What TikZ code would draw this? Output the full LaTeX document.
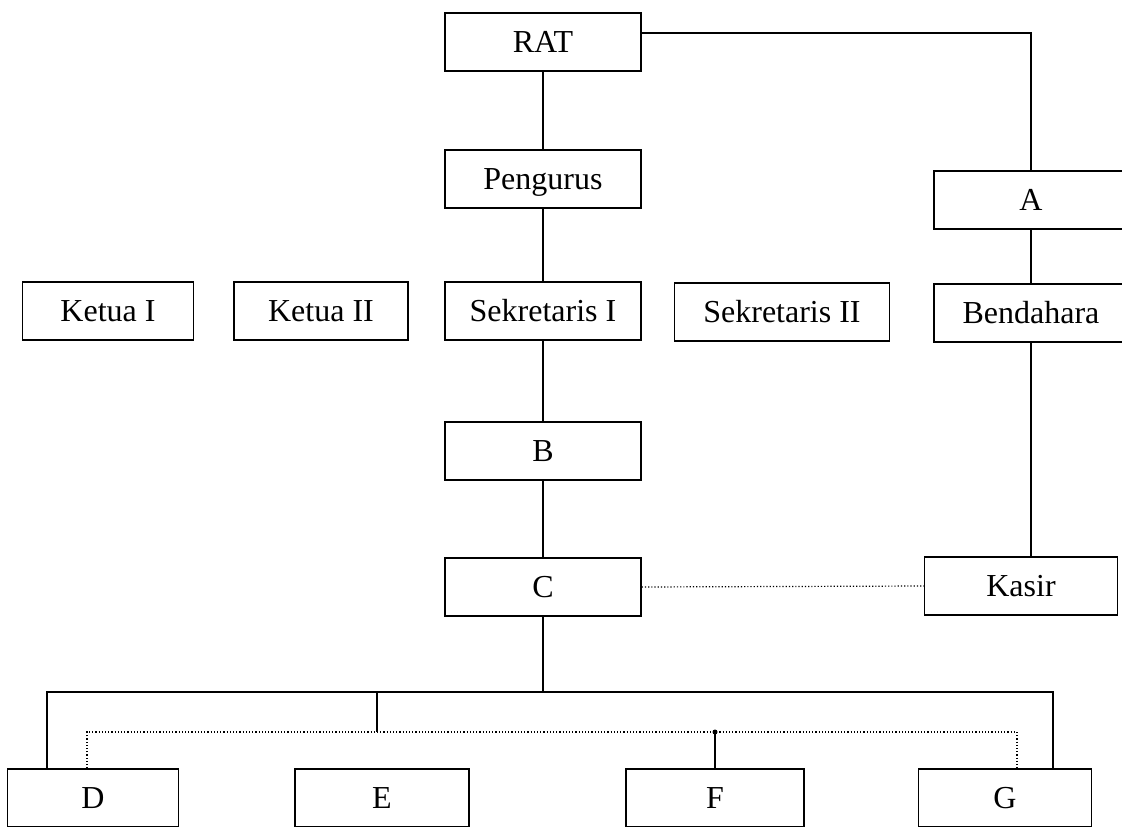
\documentclass[tikz,border=0pt]{standalone}
\usepackage{fontspec}
\setmainfont{Liberation Serif}
\usepackage{tikz}

\begin{document}
\begin{tikzpicture}[x=1pt,y=-1pt,
    box/.style={draw=black, line width=1.3pt, inner sep=0pt, minimum height=58pt,
      text height=21pt, text depth=0pt, font=\fontsize{32}{36}\selectfont},
    link/.style={draw=black, line width=1.3pt},
    dotlink/.style={draw=black, line width=1.2pt, dotted}]
            \useasboundingbox (0,0) rectangle (1122,827);
            % top of the chart
            \node [box, minimum width=196pt] (rat) at (543,42) {RAT};
            \node [box, minimum width=196pt] (pengurus) at (543,179) {Pengurus};
            \node [box, minimum width=194pt] (a) at (1031,200) {A};
            % row of officers
            \node [box, minimum width=171pt] (ketua1) at (108,311) {Ketua I};
            \node [box, minimum width=174pt] (ketua2) at (321,311) {Ketua II};
            \node [box, minimum width=196pt] (sekr1) at (543,311) {Sekretaris I};
            \node [box, minimum width=215pt] (sekr2) at (782,312) {Sekretaris II};
            \node [box, minimum width=194pt] (bendahara) at (1031,313) {Bendahara};
            % lower part
            \node [box, minimum width=196pt] (b) at (543,451) {B};
            \node [box, minimum width=196pt] (c) at (543,587) {C};
            \node [box, minimum width=193pt] (kasir) at (1021,586) {Kasir};
            \node [box, minimum width=171pt] (d) at (93,798) {D};
            \node [box, minimum width=174pt] (e) at (382,798) {E};
            \node [box, minimum width=178pt] (f) at (715,798) {F};
            \node [box, minimum width=173pt] (g) at (1005,798) {G};
            \coordinate (busL) at (47,692);
            \coordinate (busR) at (1053,692);
            \coordinate (tick) at (377,692);
            \coordinate (dotL) at (87,732);
            \coordinate (dotR) at (1017,732);
            % solid connectors
            \draw [link] ([yshift=9pt]rat.east) -| (a.north);
            \draw [link] (rat) -- (pengurus);
            \draw [link] (pengurus) -- (sekr1);
            \draw [link] (sekr1) -- (b);
            \draw [link] (b) -- (c);
            \draw [link] (a) -- (bendahara);
            \draw [link] (bendahara.south) -- (bendahara.south |- kasir.north);
            \draw [link] (c.south) -- (c.south |- busL);
            \draw [link] (d.north -| busL) -- (busL) -- (busR) -- (g.north -| busR);
            \draw [link] (tick) -- (tick |- dotL);
            \draw [link] (f.north) -- (f.north |- dotL);
            \fill [black] (f.north |- dotL) circle (2.5pt);
            % dotted connectors
            \draw [dotlink] (c.east) -- (kasir.west);
            \draw [dotlink] (d.north -| dotL) -- (dotL) -- (dotR) -- (g.north -| dotR);
\end{tikzpicture}
\end{document}
